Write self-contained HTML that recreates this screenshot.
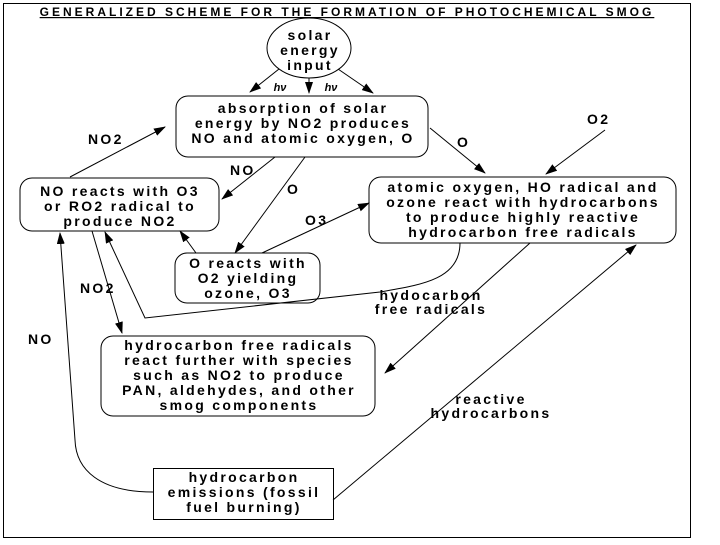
<!DOCTYPE html>
<html><head><meta charset="utf-8"><style>
body{margin:0;background:#fff}
svg text{font-family:"Liberation Sans",sans-serif;font-weight:bold;font-size:14px;letter-spacing:2.3px;fill:#000}
</style></head><body>
<svg width="720" height="540" viewBox="0 0 720 540" xmlns="http://www.w3.org/2000/svg">
<defs><marker id="a" markerWidth="12" markerHeight="8" refX="11" refY="4" orient="auto" markerUnits="userSpaceOnUse"><path d="M0,0 L12,4 L0,8 Z" fill="#000"/></marker></defs>
<rect x="3.5" y="3.5" width="687" height="534" fill="none" stroke="#000" stroke-width="1"/>
<text x="347" y="16" text-anchor="middle" style="font-size:12px;letter-spacing:3px" text-decoration="underline">GENERALIZED SCHEME FOR THE FORMATION OF PHOTOCHEMICAL SMOG</text>
<g fill="none" stroke="#000" stroke-width="1">
<ellipse cx="309" cy="48" rx="42" ry="30"/>
<rect x="176" y="96" width="252" height="61" rx="12"/>
<rect x="20" y="178" width="199" height="53" rx="12"/>
<rect x="369" y="177" width="307" height="66" rx="12"/>
<rect x="175" y="253" width="145" height="50" rx="12"/>
<rect x="101" y="336" width="274" height="80" rx="12"/>
<rect x="153.5" y="468.5" width="180" height="51"/>
<g marker-end="url(#a)">
<line x1="279" y1="69" x2="250" y2="92"/>
<line x1="309" y1="78" x2="309" y2="93"/>
<line x1="338" y1="69" x2="373" y2="93"/>
<line x1="70" y1="177" x2="165" y2="127"/>
<line x1="275" y1="157" x2="222" y2="199"/>
<line x1="305" y1="157" x2="235" y2="253"/>
<line x1="430" y1="128" x2="485" y2="173"/>
<line x1="605" y1="130" x2="546" y2="174"/>
<line x1="262" y1="253" x2="369" y2="203"/>
<line x1="196" y1="253" x2="180" y2="231"/>
<line x1="92" y1="231" x2="122" y2="333"/>
<line x1="530" y1="243" x2="385" y2="373"/>
<line x1="333" y1="500" x2="636" y2="245"/>
<path d="M460,243 C460,280 420,285 380,292 L145,318 L105,232"/>
<path d="M153,492 C100,492 76,470 75,440 L60,233"/>
</g>
</g>
<text x="310" y="40" text-anchor="middle">solar</text>
<text x="310" y="55" text-anchor="middle">energy</text>
<text x="310" y="70" text-anchor="middle">input</text>
<text x="280" y="91" style="font-size:11px;letter-spacing:0" font-style="italic" text-anchor="middle">hν</text>
<text x="331" y="91" style="font-size:11px;letter-spacing:0" font-style="italic" text-anchor="middle">hν</text>
<text x="303" y="113" text-anchor="middle">absorption of solar</text>
<text x="303" y="128" text-anchor="middle">energy by NO2 produces</text>
<text x="303" y="143" text-anchor="middle">NO and atomic oxygen, O</text>
<text x="88" y="144">NO2</text>
<text x="230" y="175">NO</text>
<text x="287" y="194">O</text>
<text x="457" y="147">O</text>
<text x="587" y="124">O2</text>
<text x="305" y="225">O3</text>
<text x="120" y="196" text-anchor="middle">NO reacts with O3</text>
<text x="120" y="211" text-anchor="middle">or RO2 radical to</text>
<text x="120" y="226" text-anchor="middle">produce NO2</text>
<text x="523" y="192" text-anchor="middle">atomic oxygen, HO radical and</text>
<text x="523" y="207" text-anchor="middle">ozone react with hydrocarbons</text>
<text x="523" y="222" text-anchor="middle">to produce highly reactive</text>
<text x="523" y="237" text-anchor="middle">hydrocarbon free radicals</text>
<text x="248" y="268" text-anchor="middle">O reacts with</text>
<text x="248" y="283" text-anchor="middle">O2 yielding</text>
<text x="248" y="298" text-anchor="middle">ozone, O3</text>
<text x="80" y="293">NO2</text>
<text x="431" y="300" text-anchor="middle">hydocarbon</text>
<text x="431" y="314" text-anchor="middle">free radicals</text>
<text x="28" y="344">NO</text>
<text x="239" y="350" text-anchor="middle">hydrocarbon free radicals</text>
<text x="239" y="365" text-anchor="middle">react further with species</text>
<text x="239" y="380" text-anchor="middle">such as NO2 to produce</text>
<text x="239" y="395" text-anchor="middle">PAN, aldehydes, and other</text>
<text x="239" y="410" text-anchor="middle">smog components</text>
<text x="491" y="404" text-anchor="middle">reactive</text>
<text x="491" y="418" text-anchor="middle">hydrocarbons</text>
<text x="244" y="482" text-anchor="middle">hydrocarbon</text>
<text x="244" y="497" text-anchor="middle">emissions (fossil</text>
<text x="244" y="512" text-anchor="middle">fuel burning)</text>
</svg>
</body></html>
